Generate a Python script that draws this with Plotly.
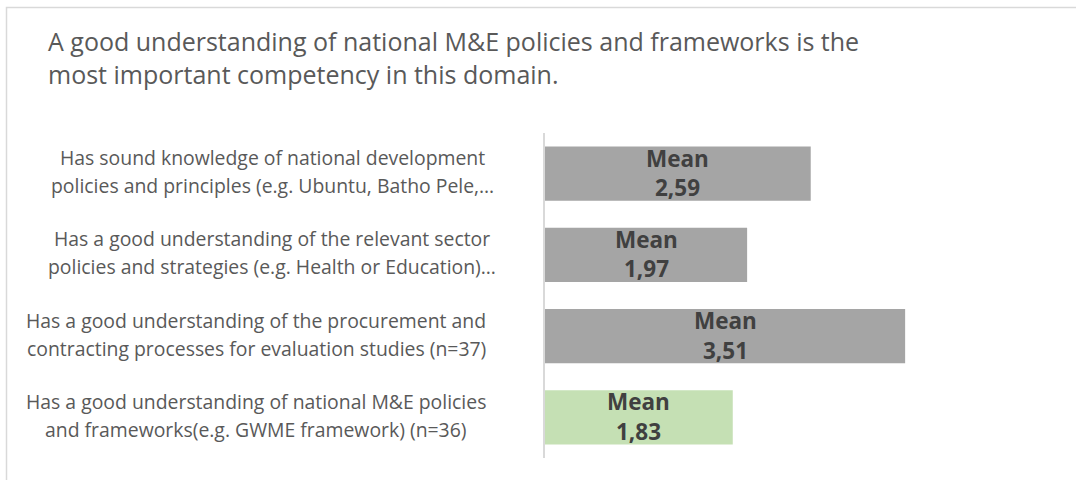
import plotly.graph_objects as go

categories = [
    "Has sound knowledge of national development<br>policies and principles (e.g. Ubuntu, Batho Pele,…",
    "Has a good understanding of the relevant sector<br>policies and strategies (e.g. Health or Education)…",
    "Has a good understanding of the procurement and<br>contracting processes for evaluation studies (n=37)",
    "Has a good understanding of national M&E policies<br>and frameworks(e.g. GWME framework) (n=36)",
]
means = [2.59, 1.97, 3.51, 1.83]
bar_colors = ["#A5A5A5", "#A5A5A5", "#A5A5A5", "#C5E0B4"]
mean_word = "Mean"
title_text = ("A good understanding of national M&E policies and frameworks is the<br>"
              "most important competency in this domain.")

W, H = 1076, 480
L, R, T, B = 545, 18, 133, 22
PW, PH = W - L - R, H - T - B
FONT = "Open Sans"
label_centers = [272, 272, 256, 256]


def px_x(x):
    return (x - L) / PW


def px_y(y):
    return (H - B - y) / PH


fig = go.Figure()
fig.add_trace(go.Bar(
    x=means, y=categories, orientation="h",
    marker=dict(color=bar_colors, line=dict(width=0)),
    hoverinfo="skip",
))

annotations = []
for cat, v, cx in zip(categories, means, label_centers):
    for txt, shift in ((mean_word, 15.5), (f"{v:.2f}".replace(".", ","), -14)):
        annotations.append(dict(
            x=v / 2, y=cat, xref="x", yref="y", yshift=shift,
            text="<b>" + txt + "</b>",
            showarrow=False, xanchor="center", yanchor="middle", align="center",
            font=dict(family=FONT, size=22.5, color="#404040"),
        ))
    lines = cat.split("<br>")
    for i, line in enumerate(lines):
        annotations.append(dict(
            x=px_x(cx), y=cat, xref="paper", yref="y",
            yshift=16 - 28 * i,
            text=line, showarrow=False, xanchor="center", yanchor="middle",
            align="center",
            font=dict(family=FONT, size=19.4, color="#595959"),
        ))

annotations.append(dict(
    x=px_x(46), y=px_y(22), xref="paper", yref="paper",
    text=title_text, showarrow=False, xanchor="left", yanchor="top", align="left",
    font=dict(family=FONT, size=25, color="#595959"),
))

fig.update_layout(
    width=W, height=H,
    margin=dict(l=L, r=R, t=T, b=B, pad=0),
    paper_bgcolor="white", plot_bgcolor="white",
    bargap=0.335,
    showlegend=False,
    annotations=annotations,
    xaxis=dict(range=[0, 5], visible=False, fixedrange=True),
    yaxis=dict(
        categoryorder="array", categoryarray=categories, autorange="reversed",
        showticklabels=False, ticks="", showgrid=False, zeroline=False,
        showline=True, linecolor="#D9D9D9", linewidth=1.5, fixedrange=True,
    ),
    shapes=[dict(
        type="rect", xref="paper", yref="paper",
        x0=px_x(6.5), x1=px_x(1100), y0=px_y(500), y1=px_y(7.5),
        line=dict(color="#D9D9D9", width=1.5), fillcolor="rgba(0,0,0,0)",
        layer="below",
    )],
)

fig.write_html("out.html", config={"displayModeBar": False},
               post_script="document.body.style.margin='0';")
